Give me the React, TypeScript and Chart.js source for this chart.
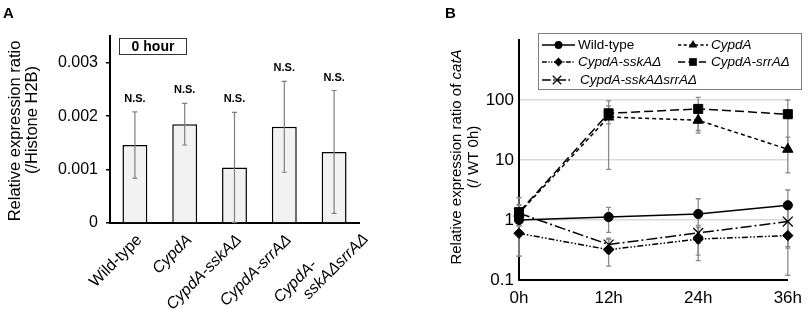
import React, { useEffect, useRef } from 'react';
import { Chart, registerables } from 'chart.js';

Chart.register(...registerables);

const FONT = '"Liberation Sans", Arial, Helvetica, sans-serif';

// ---------- Panel A data ----------
const strainLabels: string[][] = [['Wild-type'], ['CypdA'], ['CypdA-sskAΔ'], ['CypdA-srrAΔ'], ['CypdA-', 'sskAΔsrrAΔ']];
const strainItalic = [false, true, true, true, true];
const expressionMeans = [0.00146, 0.00185, 0.00104, 0.0018, 0.00133];
const expressionErrors = [0.00062, 0.00039, 0.00103, 0.00085, 0.00115];
const significance = ['N.S.', 'N.S.', 'N.S.', 'N.S.', 'N.S.'];
const ticksA = [0, 0.001, 0.002, 0.003];
const boxLabelA = '0 hour';
const titleA = ['Relative expression ratio', '(/Histone H2B)'];

// ---------- Panel B data ----------
const timeLabels = ['0h', '12h', '24h', '36h'];
const seriesNames = ['Wild-type', 'CypdA', 'CypdA-sskAΔ', 'CypdA-srrAΔ', 'CypdA-sskAΔsrrAΔ'];
const seriesItalic = [false, true, true, true, true];
const wildType = [1.0, 1.12, 1.26, 1.76];
const wildTypeErr = [0.2, 0.5, 1.0, 1.4];
const cypdA = [1.3, 52, 46, 15.1];
const cypdAErr = [0.5, 45, 18, 9];
const cypdASskA = [0.6, 0.32, 0.48, 0.55];
const cypdASskAErr = [0.35, 0.15, 0.27, 0.43];
const cypdASrrA = [1.35, 60, 71, 58];
const cypdASrrAErr = [0.4, 20, 40, 42];
const cypdASskASrrA = [1.3, 0.39, 0.61, 0.94];
const cypdASskASrrAErr = [1.05, 0.11, 0.2, 0.6];
const ticksB = [0.1, 1, 10, 100, 1000];
const titleB1 = [
  { text: 'Relative expression ratio of ', italic: false },
  { text: 'catA', italic: true },
];
const titleB2 = '(/ WT 0h)';

const seriesValues = [wildType, cypdA, cypdASskA, cypdASrrA, cypdASskASrrA];
const seriesErrors = [wildTypeErr, cypdAErr, cypdASskAErr, cypdASrrAErr, cypdASskASrrAErr];
const seriesMarker = ['circle', 'triangle', 'rectRot', 'rect', 'crossRot'];
const seriesRadius = [4.6, 6, 5.2, 6.4, 7];
const seriesDash: number[][] = [[], [4, 3], [6, 2, 1.5, 2, 1.5, 2], [9, 4], [11, 3, 2, 3]];

// offsets of rotated label line ends (along text, perpendicular) relative to tick
const LABEL_SINGLE = [{ du: -7, dv: 13.5 }];
const LABEL_DOUBLE = [
  { du: -42, dv: 14 },
  { du: 13, dv: 32 },
];

function font(size: number, bold = false, italic = false) {
  return `${italic ? 'italic ' : ''}${bold ? 'bold ' : ''}${size}px ${FONT}`;
}

function drawRotatedParts(
  ctx: CanvasRenderingContext2D,
  x: number,
  y: number,
  parts: { text: string; italic: boolean }[],
  size: number
) {
  ctx.save();
  ctx.translate(x, y);
  ctx.rotate(-Math.PI / 2);
  ctx.fillStyle = '#000';
  ctx.textBaseline = 'middle';
  ctx.textAlign = 'left';
  let total = 0;
  const widths = parts.map((p) => {
    ctx.font = font(size, false, p.italic);
    const w = ctx.measureText(p.text).width;
    total += w;
    return w;
  });
  let cx = -total / 2;
  parts.forEach((p, i) => {
    ctx.font = font(size, false, p.italic);
    ctx.fillText(p.text, cx, 0);
    cx += widths[i];
  });
  ctx.restore();
}

function drawMarker(ctx: CanvasRenderingContext2D, style: string, x: number, y: number, r: number) {
  ctx.save();
  ctx.fillStyle = '#000';
  ctx.strokeStyle = '#000';
  ctx.lineWidth = 1.3;
  ctx.setLineDash([]);
  ctx.beginPath();
  if (style === 'circle') {
    ctx.arc(x, y, r, 0, Math.PI * 2);
    ctx.fill();
  } else if (style === 'triangle') {
    for (let k = 0; k < 3; k++) {
      const a = (k * 2 * Math.PI) / 3;
      const px = x + Math.sin(a) * r;
      const py = y - Math.cos(a) * r;
      if (k === 0) ctx.moveTo(px, py);
      else ctx.lineTo(px, py);
    }
    ctx.closePath();
    ctx.fill();
  } else if (style === 'rect') {
    const s = Math.SQRT1_2 * r;
    ctx.rect(x - s, y - s, 2 * s, 2 * s);
    ctx.fill();
  } else if (style === 'rectRot') {
    ctx.moveTo(x, y - r);
    ctx.lineTo(x + r, y);
    ctx.lineTo(x, y + r);
    ctx.lineTo(x - r, y);
    ctx.closePath();
    ctx.fill();
  } else if (style === 'crossRot') {
    const s = Math.SQRT1_2 * r;
    ctx.moveTo(x - s, y - s);
    ctx.lineTo(x + s, y + s);
    ctx.moveTo(x + s, y - s);
    ctx.lineTo(x - s, y + s);
    ctx.stroke();
  }
  ctx.restore();
}

const panelAPlugin = {
  id: 'panelA',
  afterDatasetsDraw(chart: any) {
    const ctx: CanvasRenderingContext2D = chart.ctx;
    const xs = chart.scales.x;
    const ys = chart.scales.y;
    ctx.save();
    ctx.strokeStyle = '#7f7f7f';
    ctx.lineWidth = 1.2;
    expressionMeans.forEach((m, i) => {
      const x = xs.getPixelForValue(i);
      const top = ys.getPixelForValue(m + expressionErrors[i]);
      const bot = ys.getPixelForValue(Math.max(m - expressionErrors[i], 0));
      ctx.beginPath();
      ctx.moveTo(x, top);
      ctx.lineTo(x, bot);
      ctx.moveTo(x - 2.5, top);
      ctx.lineTo(x + 2.5, top);
      ctx.moveTo(x - 2.5, bot);
      ctx.lineTo(x + 2.5, bot);
      ctx.stroke();
    });
    ctx.restore();
  },
  afterDraw(chart: any) {
    const ctx: CanvasRenderingContext2D = chart.ctx;
    const xs = chart.scales.x;
    const ys = chart.scales.y;
    const area = chart.chartArea;
    ctx.save();
    ctx.fillStyle = '#000';
    ctx.font = font(15, true);
    ctx.textAlign = 'left';
    ctx.textBaseline = 'alphabetic';
    ctx.fillText('A', 3, 18);
    ctx.font = font(11, true);
    ctx.textAlign = 'center';
    ctx.textBaseline = 'middle';
    expressionMeans.forEach((m, i) => {
      const x = xs.getPixelForValue(i);
      const top = ys.getPixelForValue(m + expressionErrors[i]);
      ctx.fillText(significance[i], x, top - 13);
    });
    ctx.strokeStyle = '#333';
    ctx.lineWidth = 1;
    ctx.fillStyle = '#fff';
    ctx.fillRect(119.5, 38.5, 67, 16);
    ctx.strokeRect(119.5, 38.5, 67, 16);
    ctx.fillStyle = '#000';
    ctx.font = font(14, true);
    ctx.fillText(boxLabelA, 153, 47);

    // rotated category labels
    const k = Math.SQRT1_2;
    strainLabels.forEach((lines, i) => {
      const tx = xs.getPixelForValue(i);
      const ty = area.bottom;
      const offs = lines.length > 1 ? LABEL_DOUBLE : LABEL_SINGLE;
      lines.forEach((line, li) => {
        const { du, dv } = offs[li];
        const px = tx + (du + dv) * k;
        const py = ty + (dv - du) * k;
        ctx.save();
        ctx.translate(px, py);
        ctx.rotate(-Math.PI / 4);
        ctx.font = font(16, false, strainItalic[i]);
        ctx.fillStyle = '#000';
        ctx.textAlign = 'right';
        ctx.textBaseline = 'middle';
        ctx.fillText(line, 0, 0);
        ctx.restore();
      });
    });
    ctx.restore();
    drawRotatedParts(ctx, 15, 131, [{ text: titleA[0], italic: false }], 16.5);
    drawRotatedParts(ctx, 32, 120, [{ text: titleA[1], italic: false }], 16.5);
  },
};

const LEGEND_ROWS = [45, 62, 80];

const panelBPlugin = {
  id: 'panelB',
  beforeDatasetsDraw(chart: any) {
    const ctx: CanvasRenderingContext2D = chart.ctx;
    const xs = chart.scales.x;
    const ys = chart.scales.y;
    ctx.save();
    ctx.strokeStyle = '#8a8a8a';
    ctx.lineWidth = 1.3;
    seriesValues.forEach((vals, si) => {
      vals.forEach((v, j) => {
        const e = seriesErrors[si][j];
        const x = xs.getPixelForValue(j);
        const top = ys.getPixelForValue(v + e);
        const bot = ys.getPixelForValue(Math.max(v - e, 0.1));
        ctx.beginPath();
        ctx.moveTo(x, top);
        ctx.lineTo(x, bot);
        ctx.moveTo(x - 2.5, top);
        ctx.lineTo(x + 2.5, top);
        if (v - e > 0.1) {
          ctx.moveTo(x - 2.5, bot);
          ctx.lineTo(x + 2.5, bot);
        }
        ctx.stroke();
      });
    });
    ctx.restore();
  },
  afterDraw(chart: any) {
    const ctx: CanvasRenderingContext2D = chart.ctx;
    ctx.save();
    ctx.fillStyle = '#000';
    ctx.font = font(15, true);
    ctx.textAlign = 'left';
    ctx.textBaseline = 'alphabetic';
    ctx.fillText('B', 40, 18);

    ctx.fillStyle = '#fff';
    ctx.fillRect(133.5, 33.5, 263, 56);
    ctx.strokeStyle = '#7f7f7f';
    ctx.lineWidth = 1;
    ctx.strokeRect(133.5, 33.5, 263, 56);

    seriesNames.forEach((name, i) => {
      const col = i % 2;
      const row = Math.floor(i / 2);
      const y = LEGEND_ROWS[row];
      const x0 = col === 0 ? 137 : 273;
      const x1 = col === 0 ? (row === 2 ? 167 : 170) : 303;
      const tx = col === 0 ? (row === 2 ? 175 : 173) : 306;
      ctx.save();
      ctx.strokeStyle = '#000';
      ctx.lineWidth = 1.5;
      ctx.setLineDash(seriesDash[i].map((d) => d * 0.8));
      ctx.beginPath();
      ctx.moveTo(x0, y);
      ctx.lineTo(x1, y);
      ctx.stroke();
      ctx.restore();
      drawMarker(ctx, seriesMarker[i], (x0 + x1) / 2, y, seriesRadius[i] * 0.85);
      ctx.fillStyle = '#000';
      ctx.font = font(13.5, false, seriesItalic[i]);
      ctx.textAlign = 'left';
      ctx.textBaseline = 'middle';
      ctx.fillText(name, tx, y + 0.5);
    });
    ctx.restore();

    drawRotatedParts(ctx, 52, 157, titleB1, 15);
    drawRotatedParts(ctx, 69, 157, [{ text: titleB2, italic: false }], 15);
  },
};

export default function App() {
  const refA = useRef<HTMLCanvasElement | null>(null);
  const refB = useRef<HTMLCanvasElement | null>(null);

  useEffect(() => {
    if (!refA.current || !refB.current) return;

    const chartA = new Chart(refA.current, {
      type: 'bar',
      data: {
        labels: strainLabels.map((l) => l.join(' ')),
        datasets: [
          {
            data: expressionMeans,
            backgroundColor: '#f2f2f2',
            borderColor: '#000',
            borderWidth: 1.5,
            categoryPercentage: 1,
            barPercentage: 0.5,
          },
        ],
      },
      options: {
        responsive: false,
        animation: false,
        devicePixelRatio: 1,
        layout: { padding: { left: 0, top: 36, right: 46, bottom: 0 } },
        plugins: { legend: { display: false }, tooltip: { enabled: false } },
        scales: {
          x: {
            grid: { display: false, drawTicks: false, tickLength: 0 },
            border: { display: true, color: '#000', width: 2 },
            ticks: { display: false },
            afterFit: (s: any) => {
              s.height = 86;
            },
          },
          y: {
            min: 0,
            max: 0.0035,
            afterBuildTicks: (s: any) => {
              s.ticks = ticksA.map((v) => ({ value: v }));
            },
            grid: {
              display: true,
              drawOnChartArea: false,
              drawTicks: true,
              tickLength: 4,
              color: '#000',
              lineWidth: 1.5,
            },
            border: { display: true, color: '#000', width: 2 },
            ticks: {
              padding: 8,
              color: '#000',
              font: { family: FONT, size: 16 },
              callback: (v: any) => (Number(v) === 0 ? '0' : Number(v).toFixed(3)),
            },
            afterFit: (s: any) => {
              s.width = 110;
            },
          },
        },
      },
      plugins: [panelAPlugin],
    });

    const chartB = new Chart(refB.current, {
      type: 'line',
      data: {
        labels: timeLabels,
        datasets: seriesNames.map((name, i) => ({
          label: name,
          data: seriesValues[i],
          borderColor: '#000',
          backgroundColor: '#000',
          borderWidth: 1.5,
          borderDash: seriesDash[i],
          pointStyle: seriesMarker[i] as any,
          pointRadius: seriesRadius[i],
          pointBackgroundColor: '#000',
          pointBorderColor: '#000',
          pointBorderWidth: seriesMarker[i] === 'crossRot' ? 1.3 : 1,
          tension: 0,
          fill: false,
          clip: false as any,
        })),
      },
      options: {
        responsive: false,
        animation: false,
        devicePixelRatio: 1,
        layout: { padding: { left: 0, top: 40, right: 18, bottom: 0 } },
        plugins: { legend: { display: false }, tooltip: { enabled: false } },
        scales: {
          x: {
            offset: false,
            grid: { display: false, drawTicks: false, tickLength: 0 },
            border: { display: true, color: '#000', width: 2 },
            ticks: { padding: 8, color: '#000', font: { family: FONT, size: 17 } },
            afterFit: (s: any) => {
              s.height = 29;
            },
          },
          y: {
            type: 'logarithmic',
            min: 0.1,
            max: 1000,
            afterBuildTicks: (s: any) => {
              s.ticks = ticksB.map((v) => ({ value: v }));
            },
            grid: {
              drawTicks: false,
              tickLength: 0,
              lineWidth: 1.5,
              color: ((c: any) =>
                c.tick && [1, 10, 100].includes(c.tick.value) ? '#d9d9d9' : 'rgba(0,0,0,0)') as any,
            },
            border: { display: true, color: '#000', width: 2 },
            ticks: {
              padding: 5,
              color: '#000',
              font: { family: FONT, size: 17 },
              callback: (v: any) => (Number(v) === 1000 ? '' : String(v)),
            },
            afterFit: (s: any) => {
              s.width = 114;
            },
          },
        },
      },
      plugins: [panelBPlugin],
    });

    return () => {
      chartA.destroy();
      chartB.destroy();
    };
  }, []);

  return (
    <div style={{ position: 'fixed', left: 0, top: 0, width: 810, height: 309, background: '#fff' }}>
      <canvas
        ref={refA}
        width={405}
        height={309}
        style={{ position: 'absolute', left: 0, top: 0, width: 405, height: 309 }}
      />
      <canvas
        ref={refB}
        width={405}
        height={309}
        style={{ position: 'absolute', left: 405, top: 0, width: 405, height: 309 }}
      />
    </div>
  );
}
